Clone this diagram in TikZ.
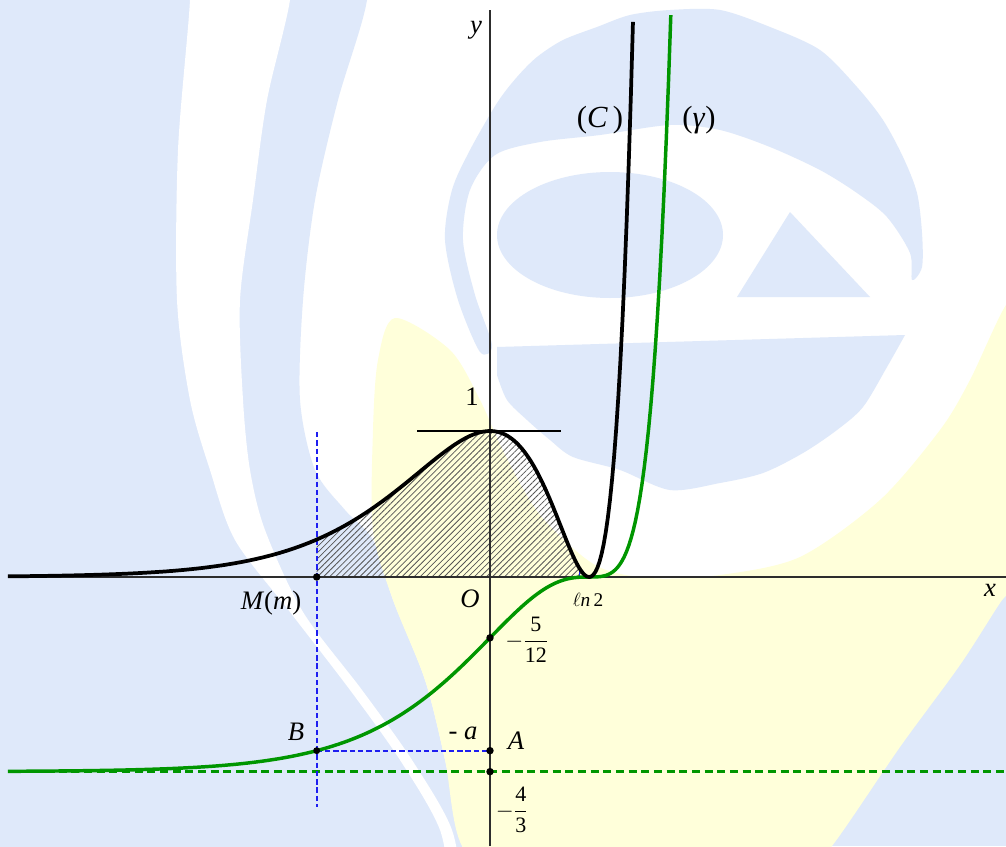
\documentclass[tikz,border=0pt]{standalone}
\usepackage{amsmath}
\usepackage{fontspec}
\setmainfont{Liberation Serif}
\usetikzlibrary{patterns.meta}
\definecolor{wmblue}{RGB}{223,233,250}
\definecolor{wmyellow}{RGB}{255,255,218}
\definecolor{curvegreen}{RGB}{0,150,0}
\definecolor{dashblue}{RGB}{30,30,240}
\definecolor{axisgray}{RGB}{45,45,45}
\definecolor{hatchgray}{RGB}{85,85,85}
\tikzset{
  declare function={fC(\t)=exp(2*\t)*(exp(\t)-2)*(exp(\t)-2);
                    Fg(\t)=exp(4*\t)/4-4*exp(3*\t)/3+2*exp(2*\t)-4/3;},
  axisline/.style={draw=axisgray, line width=1.3pt},
  curveC/.style={draw=black, line width=2.8pt, line join=round},
  curveG/.style={draw=curvegreen, line width=2.6pt, line join=round},
  tangentline/.style={draw=black, line width=1.8pt},
  asym/.style={draw=curvegreen, line width=2pt, dash pattern=on 6pt off 3.5pt},
  bluedash/.style={draw=dashblue, line width=1.3pt, dash pattern=on 4pt off 2.2pt},
  bluetick/.style={draw=dashblue, line width=0.8pt},
  dot/.style={fill=black},
  lbl/.style={inner sep=0pt, font=\fontsize{20}{24}\selectfont},
  biglbl/.style={inner sep=0pt, font=\fontsize{23}{26}\selectfont},
  fraclbl/.style={inner sep=0pt, font=\fontsize{16.5}{20}\selectfont},
  smalllbl/.style={inner sep=0pt, font=\fontsize{14.5}{17}\selectfont},
  hatch/.style={pattern={Lines[angle=45,distance=3.2pt,line width=0.6pt]}, pattern color=hatchgray}
}
\begin{document}
\begin{tikzpicture}[x=0.75pt,y=-0.75pt]
\useasboundingbox (0,0) rectangle (1006,846);
% ---------- watermark ----------
\begin{scope}
\clip (0,0) rectangle (1006,846);
\fill[white] (0,0) rectangle (1006,846);
% left blue area with the left band
\fill[wmblue] plot[smooth cycle, tension=0.5] coordinates {(-80,-80) (367,-80) (367,0) (338,100) (315,200) (303,300) (300,400) (315,470) (345,510) (373,540) (393,600) (425,680) (445,760) (462,846) (470,920) (-80,920)};
% white strip between left area and band
\fill[white] plot[smooth cycle, tension=0.5] coordinates {(190,-80) (190,0) (178,150) (177,300) (190,400) (210,470) (235,540) (290,612) (350,690) (400,760) (440,830) (452,900) (462,900) (452,830) (412,760) (362,690) (303,612) (265,530) (250,470) (243,400) (240,300) (253,200) (267,100) (290,0) (295,-80)};
% big ring
\fill[wmblue] plot[smooth cycle, tension=0.5] coordinates {(480,352) (458,300) (445,240) (452,190) (470,150) (497,103) (517,77) (537,57) (563,40) (597,27) (630,15) (670,10) (720,10) (770,27) (820,50) (857,87) (883,120) (903,157) (917,193) (922,233) (922,267) (912,280) (910,253) (887,217) (857,193) (820,170) (770,147) (720,130) (670,125) (600,135) (540,142) (495,155) (470,190) (463,240) (475,295) (492,345)};
% upper dome of the e
\fill[wmblue] (610,235) ellipse [x radius=84.75pt, y radius=47.25pt];
% triangle
\fill[wmblue] (790,212) -- (737,297) -- (870,297) -- cycle;
% lower lens
\fill[wmblue] (497,347) -- (905,335) -- plot[smooth, tension=0.5] coordinates {(905,335) (887,367) (863,407) (837,430) (803,453) (763,473) (720,483) (670,490) (620,470) (573,457) (550,440) (527,420) (507,400) (497,375)} -- cycle;
% bottom right blue
\fill[wmblue] (830,595) rectangle (1006,846);
% yellow crescent
\fill[wmyellow] plot[smooth cycle, tension=0.5] coordinates {(395,318) (378,360) (373,430) (373,530) (393,600) (425,680) (445,760) (462,846) (520,900) (650,910) (790,890) (832,846) (900,747) (960,665) (1000,603) (1030,560) (1040,420) (1030,290) (1006,305) (970,380) (940,430) (880,500) (800,557) (720,575) (650,578) (595,565) (540,515) (505,455) (480,400) (450,350)};
\end{scope}
% ---------- graph ----------
\begin{scope}[shift={(367.5pt,-432.75pt)}, x=107.25pt, y=109.5pt]
\def\mval{-1.212}
\coordinate (xl) at (-3.371,0);
\coordinate (xr) at (3.608,0);
\coordinate (yb) at (0,-1.8425);
\coordinate (yt) at (0,3.884);
\coordinate (M) at (\mval,0);
\coordinate (B) at (\mval,{Fg(\mval)});
\coordinate (A) at (0,{Fg(\mval)});
\coordinate (P5) at (0,-5/12);
\coordinate (P4) at (0,-4/3);
\coordinate (Mt) at (\mval,0.993);
\coordinate (Mb) at (\mval,-1.575);
\coordinate (al) at (-3.371,-4/3);
\coordinate (ar) at (3.608,-4/3);
\coordinate (tl) at (-0.51,1);
\coordinate (tr) at (0.497,1);
\coordinate (L2) at (0.6931,0);
\coordinate (Tb) at (0.629,0);
\coordinate (Tt) at (0.629,{fC(0.629)});
% hatched area
\fill[hatch] (M) -- plot[domain=\mval:0.6931, samples=120] (\x,{fC(\x)}) -- (L2) -- cycle;
\draw[bluetick] (Tb) -- (Tt);
% dashed lines
\draw[asym] (al) -- (ar);
\draw[bluedash] (Mt) -- (Mb);
\draw[bluedash] (B) -- (A);
% axes
\draw[axisline] (xl) -- (xr);
\draw[axisline] (yb) -- (yt);
% curves
\draw[curveG] plot[domain=-3.371:1.266, samples=300] (\x,{Fg(\x)});
\draw[curveC] plot[domain=-3.371:1.0023, samples=300] (\x,{fC(\x)});
\draw[tangentline] (tl) -- (tr);
% points
\fill[dot] (M) circle (2.8pt);
\fill[dot] (B) circle (2.6pt);
\fill[dot] (A) circle (2.8pt);
\fill[dot] (P5) circle (2.8pt);
\fill[dot] (P4) circle (2.8pt);
\end{scope}
% ---------- labels ----------
\node[lbl] (ly) at (476,30) {\textit{y}};
\node[lbl] (lx) at (990,590) {\textit{x}};
\node[biglbl] (lC) at (600,120) {(\textit{C}\,)};
\node[biglbl] (lg) at (699,120) {(\textit{γ})};
\node[lbl] (l1) at (472,397) {1};
\node[lbl] (lO) at (470,599) {\textit{O}};
\node[smalllbl] (lln) at (588,600) {$\ell$\textit{n}\,2};
\node[lbl] (lM) at (271,603) {\textit{M}(\textit{m})};
\node[fraclbl] (l512) at (527,640) {$-\dfrac{\textrm{5}}{\textrm{12}}$};
\node[lbl] (lB) at (296,732) {\textit{B}};
\node[lbl] (la) at (463,733) {- \textit{a}};
\node[lbl] (lA) at (516,741) {\textit{A}};
\node[fraclbl] (l43) at (512,810) {$-\dfrac{\textrm{4}}{\textrm{3}}$};
\end{tikzpicture}
\end{document}
